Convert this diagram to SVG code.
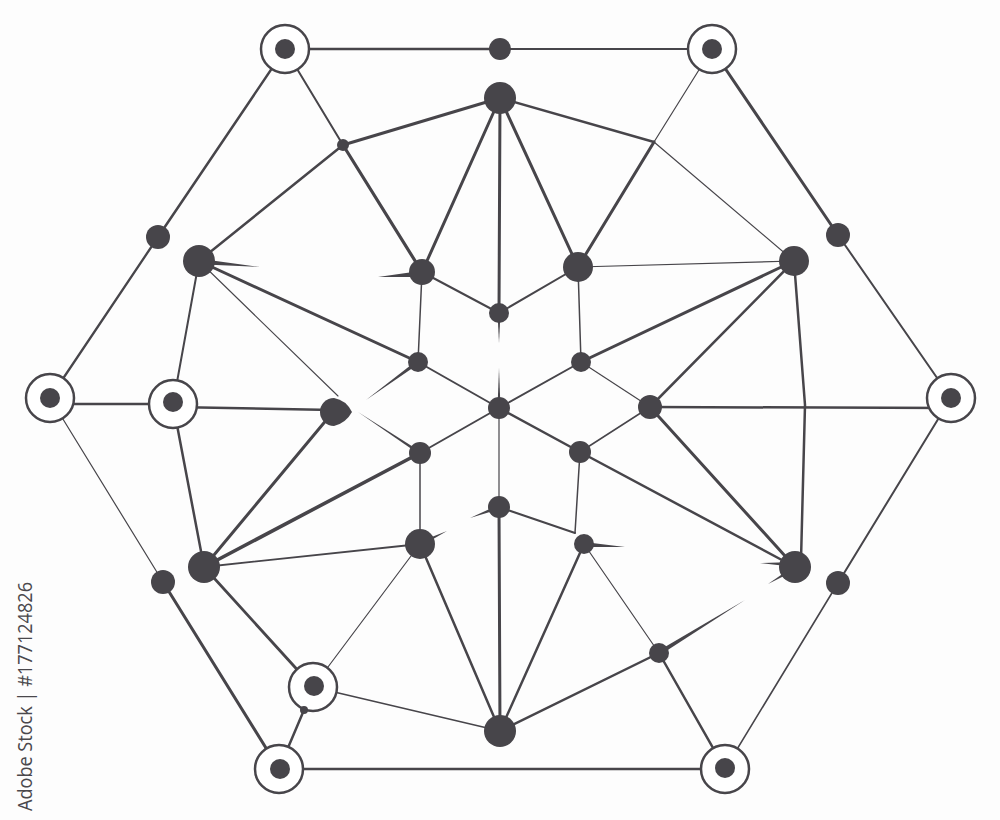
<svg xmlns="http://www.w3.org/2000/svg" width="1000" height="820" viewBox="0 0 1000 820">
<style>
.e{stroke:#47454a;fill:none;stroke-linecap:round}
.dot{fill:#47454a}
.ring{fill:#ffffff;stroke:#47454a;stroke-width:2.5}
.sp{fill:#47454a}
</style>
<rect width="1000" height="820" fill="#fdfdfd"/>
<g id="connectors">
<line class="e" x1="285" y1="49" x2="500" y2="49" stroke-width="2.5"/>
<line class="e" x1="500" y1="49" x2="712" y2="49" stroke-width="2.2"/>
<line class="e" x1="712" y1="49" x2="838" y2="235" stroke-width="3"/>
<line class="e" x1="838" y1="235" x2="951" y2="398" stroke-width="2"/>
<line class="e" x1="951" y1="398" x2="838" y2="583" stroke-width="2"/>
<line class="e" x1="838" y1="583" x2="725" y2="769" stroke-width="1.6"/>
<line class="e" x1="725" y1="769" x2="279" y2="769" stroke-width="2.5"/>
<line class="e" x1="279" y1="769" x2="163" y2="582" stroke-width="3"/>
<line class="e" x1="163" y1="582" x2="50" y2="398" stroke-width="1.2"/>
<line class="e" x1="50" y1="398" x2="158" y2="237" stroke-width="2.3"/>
<line class="e" x1="158" y1="237" x2="285" y2="49" stroke-width="2.5"/>
<line class="e" x1="50" y1="404" x2="173" y2="404" stroke-width="2.5"/>
<line class="e" x1="285" y1="49" x2="343" y2="145" stroke-width="2"/>
<line class="e" x1="343" y1="145" x2="422" y2="272" stroke-width="3.2"/>
<line class="e" x1="343" y1="145" x2="500" y2="98" stroke-width="3"/>
<line class="e" x1="343" y1="145" x2="199" y2="261" stroke-width="2.5"/>
<line class="e" x1="500" y1="98" x2="422" y2="272" stroke-width="3"/>
<line class="e" x1="500" y1="98" x2="499" y2="313" stroke-width="3"/>
<line class="e" x1="500" y1="98" x2="578" y2="267" stroke-width="3"/>
<line class="e" x1="500" y1="98" x2="654" y2="142" stroke-width="2.5"/>
<line class="e" x1="654" y1="142" x2="794" y2="261" stroke-width="1.2"/>
<line class="e" x1="712" y1="49" x2="654" y2="142" stroke-width="1.2"/>
<line class="e" x1="654" y1="142" x2="578" y2="267" stroke-width="3"/>
<line class="e" x1="199" y1="261" x2="418" y2="362" stroke-width="3"/>
<line class="e" x1="199" y1="261" x2="338" y2="396" stroke-width="1.1"/>
<line class="e" x1="199" y1="261" x2="173" y2="404" stroke-width="2"/>
<line class="e" x1="173" y1="407" x2="333" y2="410" stroke-width="2.5"/>
<line class="e" x1="173" y1="404" x2="204" y2="567" stroke-width="2.5"/>
<line class="e" x1="333" y1="412" x2="204" y2="567" stroke-width="3"/>
<line class="e" x1="204" y1="567" x2="420" y2="453" stroke-width="3.6"/>
<line class="e" x1="204" y1="567" x2="420" y2="544" stroke-width="1.8"/>
<line class="e" x1="204" y1="567" x2="313" y2="687" stroke-width="2.8"/>
<line class="e" x1="313" y1="687" x2="420" y2="544" stroke-width="1.2"/>
<line class="e" x1="313" y1="687" x2="500" y2="731" stroke-width="1.6"/>
<line class="e" x1="304" y1="710" x2="279" y2="769" stroke-width="2.5"/>
<line class="e" x1="420" y1="544" x2="420" y2="453" stroke-width="1.5"/>
<line class="e" x1="420" y1="544" x2="500" y2="731" stroke-width="2.5"/>
<line class="e" x1="499" y1="507" x2="499" y2="408" stroke-width="1.2"/>
<line class="e" x1="499" y1="507" x2="500" y2="731" stroke-width="3"/>
<line class="e" x1="499" y1="507" x2="575" y2="533" stroke-width="2"/>
<line class="e" x1="580" y1="452" x2="575" y2="533" stroke-width="1.5"/>
<line class="e" x1="584" y1="544" x2="500" y2="731" stroke-width="2.5"/>
<line class="e" x1="584" y1="544" x2="659" y2="653" stroke-width="1.2"/>
<line class="e" x1="659" y1="653" x2="500" y2="731" stroke-width="2.5"/>
<line class="e" x1="659" y1="653" x2="725" y2="769" stroke-width="2.5"/>
<line class="e" x1="795" y1="567" x2="650" y2="407" stroke-width="3"/>
<line class="e" x1="795" y1="567" x2="580" y2="452" stroke-width="2.5"/>
<polyline class="e" points="794,261 805,405 801,560" stroke-width="2.5"/>
<line class="e" x1="650" y1="407" x2="951" y2="408" stroke-width="2.5"/>
<line class="e" x1="650" y1="407" x2="794" y2="261" stroke-width="2.5"/>
<line class="e" x1="650" y1="407" x2="581" y2="362" stroke-width="1.2"/>
<line class="e" x1="650" y1="407" x2="580" y2="452" stroke-width="1.5"/>
<line class="e" x1="581" y1="362" x2="499" y2="408" stroke-width="2"/>
<line class="e" x1="581" y1="362" x2="794" y2="261" stroke-width="3"/>
<line class="e" x1="581" y1="362" x2="578" y2="267" stroke-width="1.5"/>
<line class="e" x1="578" y1="267" x2="499" y2="313" stroke-width="2"/>
<line class="e" x1="578" y1="267" x2="794" y2="261" stroke-width="1.2"/>
<line class="e" x1="422" y1="272" x2="499" y2="313" stroke-width="2"/>
<line class="e" x1="422" y1="272" x2="418" y2="362" stroke-width="1.5"/>
<line class="e" x1="418" y1="362" x2="499" y2="408" stroke-width="2"/>
<line class="e" x1="499" y1="408" x2="420" y2="453" stroke-width="2"/>
<line class="e" x1="499" y1="408" x2="580" y2="452" stroke-width="2.5"/>
<polygon class="sp" points="420.8,451.7 419.2,454.3 358,412"/>
<polygon class="sp" points="419.2,363.6 416.8,360.4 366,400"/>
<polygon class="sp" points="205,259.5 205,264.5 260,267"/>
<polygon class="sp" points="420,271 420,277 378,277"/>
<polygon class="sp" points="419,542 421,546 447,531"/>
<polygon class="sp" points="499.7,509 498.3,505 470,518"/>
<polygon class="sp" points="584,542 584,547 625,547"/>
<polygon class="sp" points="795,562 795,567 760,563"/>
<polygon class="sp" points="796,570 794,566 768,584"/>
<polygon class="sp" points="658,651 660,655 745,600"/>
<polygon class="sp" points="497.5,313 500.5,313 499,343"/>
<polygon class="sp" points="497.5,408 500.5,408 499,368"/>
</g>
<g id="node-A"><circle class="ring" cx="285" cy="49" r="24"/><circle class="dot" cx="285" cy="49" r="10"/></g>
<g id="node-B"><circle class="ring" cx="712" cy="49" r="24"/><circle class="dot" cx="712" cy="49" r="10"/></g>
<g id="node-C"><circle class="ring" cx="50" cy="398" r="24"/><circle class="dot" cx="50" cy="398" r="10"/></g>
<g id="node-D"><circle class="ring" cx="173" cy="404" r="24"/><circle class="dot" cx="173" cy="402" r="10"/></g>
<g id="node-E"><circle class="ring" cx="951" cy="398" r="24"/><circle class="dot" cx="951" cy="398" r="10"/></g>
<g id="node-F"><circle class="ring" cx="313" cy="687" r="24"/><circle class="dot" cx="314" cy="686" r="10"/><circle class="dot" cx="304" cy="710" r="4"/></g>
<g id="node-G"><circle class="ring" cx="279" cy="769" r="24"/><circle class="dot" cx="280" cy="769" r="10"/></g>
<g id="node-H"><circle class="ring" cx="725" cy="769" r="24"/><circle class="dot" cx="725" cy="768" r="10"/></g>
<g id="node-top"><circle class="dot" cx="500" cy="49" r="11"/></g>
<g id="node-hub"><circle class="dot" cx="500" cy="98" r="16"/></g>
<g id="node-j1"><circle class="dot" cx="343" cy="145" r="6"/></g>
<g id="node-l1"><circle class="dot" cx="158" cy="237" r="12"/></g>
<g id="node-l2"><circle class="dot" cx="199" cy="261" r="16"/></g>
<g id="node-r1"><circle class="dot" cx="838" cy="235" r="12"/></g>
<g id="node-r2"><circle class="dot" cx="794" cy="261" r="15"/></g>
<g id="node-u1"><circle class="dot" cx="422" cy="272" r="13"/></g>
<g id="node-u2"><circle class="dot" cx="578" cy="267" r="15"/></g>
<g id="node-u3"><circle class="dot" cx="499" cy="313" r="10"/></g>
<g id="node-m1"><circle class="dot" cx="418" cy="362" r="10"/></g>
<g id="node-m2"><circle class="dot" cx="581" cy="362" r="10"/></g>
<g id="node-c"><circle class="dot" cx="499" cy="408" r="11"/></g>
<g id="node-t"><path class="dot" d="M352,412 Q346,400 334,398 A14,14 0 1,0 334,426 Q346,423 352,412 Z"/></g>
<g id="node-e"><circle class="dot" cx="650" cy="407" r="12"/></g>
<g id="node-m3"><circle class="dot" cx="420" cy="453" r="11"/></g>
<g id="node-m4"><circle class="dot" cx="580" cy="452" r="11"/></g>
<g id="node-b1"><circle class="dot" cx="499" cy="507" r="11"/></g>
<g id="node-b2"><circle class="dot" cx="420" cy="544" r="15"/></g>
<g id="node-b3"><circle class="dot" cx="584" cy="544" r="10"/></g>
<g id="node-l3"><circle class="dot" cx="204" cy="567" r="16"/></g>
<g id="node-r3"><circle class="dot" cx="795" cy="567" r="16"/></g>
<g id="node-l4"><circle class="dot" cx="163" cy="582" r="12"/></g>
<g id="node-r4"><circle class="dot" cx="838" cy="583" r="12"/></g>
<g id="node-b4"><circle class="dot" cx="659" cy="653" r="10"/></g>
<g id="node-bot"><circle class="dot" cx="500" cy="731" r="16"/></g>
<text transform="translate(32,811) rotate(-90)" font-family="Open Sans, sans-serif" font-size="20" fill="#4a484c" textLength="229" lengthAdjust="spacingAndGlyphs">Adobe Stock | #177124826</text>
</svg>
